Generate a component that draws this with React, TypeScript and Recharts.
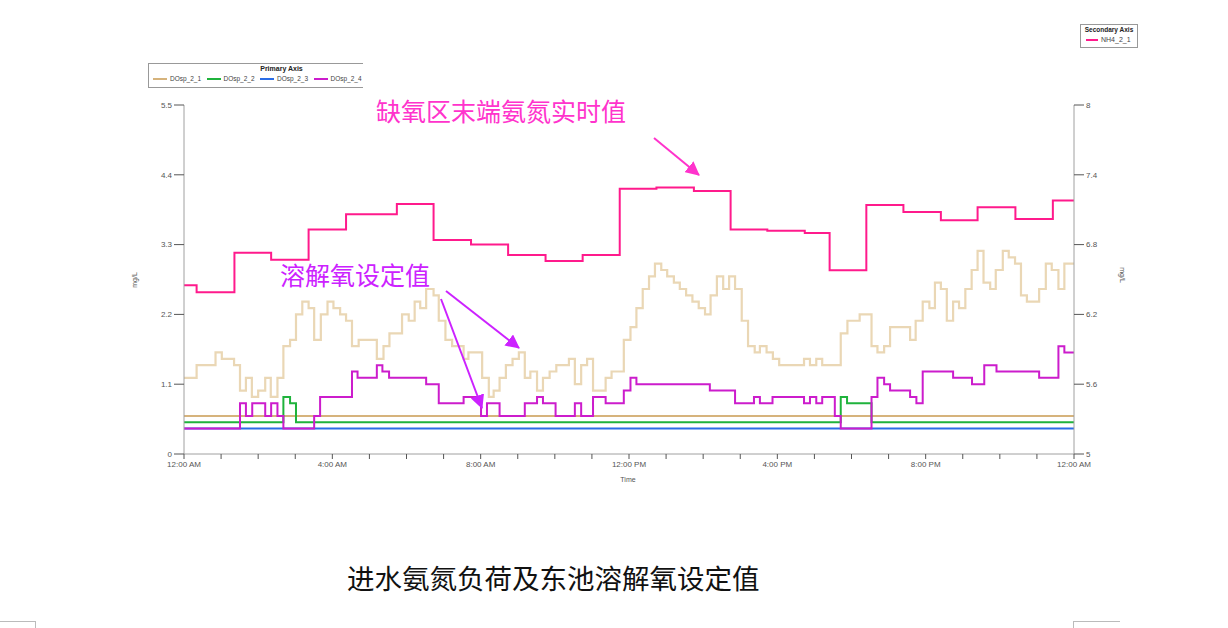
import React from 'react';
import { LineChart, Line, XAxis, YAxis } from 'recharts';

// ---- tick labels ----
const hourTicks = [0,1,2,3,4,5,6,7,8,9,10,11,12,13,14,15,16,17,18,19,20,21,22,23,24];
const timeLabels = ['12:00 AM', '4:00 AM', '8:00 AM', '12:00 PM', '4:00 PM', '8:00 PM', '12:00 AM'];
const leftTicks = [0, 1.1, 2.2, 3.3, 4.4, 5.5];
const rightTicks = [5, 5.6, 6.2, 6.8, 7.4, 8];

// ---- series (hours since midnight, value) ----
const sp1Times = [0, 24];
const sp1Values = [0.6, 0.6];

const sp2Times = [0, 2.68, 2.86, 3.02, 17.71, 17.88, 18.54, 24];
const sp2Values = [0.5, 0.9, 0.8, 0.5, 0.9, 0.8, 0.5, 0.5];

const sp3Times = [0, 24];
const sp3Values = [0.4, 0.4];

const sp4Times = [0, 1.51, 1.67, 1.84, 2.19, 2.35, 2.52, 2.68, 3.51, 3.67, 4.53, 4.68, 5.2, 5.35, 5.53, 6.53, 6.87, 7.54, 8.01, 8.17, 8.51, 9.19, 9.52, 9.68, 10.02, 10.54, 10.71, 11.03, 11.37, 11.86, 12.04, 12.2, 14.18, 14.86, 15.37, 15.53, 15.87, 16.72, 16.88, 17.05, 17.21, 17.55, 17.71, 18.54, 18.7, 18.88, 19.04, 19.58, 19.75, 19.92, 20.74, 21.25, 21.58, 21.91, 23.06, 23.58, 23.74, 24];
const sp4Values = [0.4, 0.8, 0.6, 0.8, 0.6, 0.8, 0.6, 0.4, 0.6, 0.9, 1.3, 1.2, 1.4, 1.3, 1.2, 1.1, 0.8, 0.9, 0.6, 0.8, 0.6, 0.8, 0.9, 0.8, 0.6, 0.8, 0.6, 0.9, 0.8, 1.0, 1.2, 1.1, 1.0, 0.8, 0.9, 0.8, 0.9, 0.8, 0.9, 0.8, 0.9, 0.6, 0.4, 0.9, 1.2, 1.1, 1.0, 0.9, 0.8, 1.3, 1.2, 1.1, 1.4, 1.3, 1.2, 1.7, 1.6, 1.6];

const loadTimes = [0, 0.34, 0.85, 1.02, 1.35, 1.51, 1.67, 1.83, 2.0, 2.19, 2.34, 2.52, 2.68, 2.86, 3.02, 3.19, 3.36, 3.51, 3.69, 3.87, 4.03, 4.21, 4.37, 4.53, 4.71, 5.2, 5.38, 5.54, 5.88, 6.06, 6.22, 6.37, 6.53, 6.73, 6.87, 7.05, 7.23, 7.54, 7.67, 8.04, 8.22, 8.35, 8.51, 8.68, 8.86, 9.03, 9.19, 9.34, 9.52, 9.68, 9.86, 10.04, 10.38, 10.54, 10.71, 10.87, 11.03, 11.37, 11.53, 11.86, 12.04, 12.2, 12.37, 12.54, 12.7, 12.87, 13.03, 13.21, 13.37, 13.54, 13.71, 13.88, 14.05, 14.2, 14.37, 14.54, 14.7, 14.86, 15.04, 15.21, 15.39, 15.53, 15.71, 15.88, 16.05, 16.72, 16.88, 17.05, 17.21, 17.71, 17.89, 18.22, 18.54, 18.7, 18.88, 19.04, 19.58, 19.73, 19.92, 20.1, 20.25, 20.41, 20.57, 20.74, 20.9, 21.07, 21.24, 21.4, 21.56, 21.74, 21.89, 22.08, 22.24, 22.41, 22.57, 22.73, 23.06, 23.24, 23.4, 23.58, 23.74, 24];
const loadValues = [1.2, 1.4, 1.6, 1.5, 1.4, 1.0, 1.2, 0.9, 1.0, 1.2, 0.9, 1.2, 1.7, 1.8, 2.2, 2.4, 2.3, 1.8, 2.2, 2.4, 2.3, 2.2, 2.1, 1.7, 1.8, 1.5, 1.7, 1.9, 2.2, 2.1, 2.4, 2.3, 2.6, 2.5, 2.1, 1.8, 1.7, 1.5, 1.6, 1.2, 0.9, 1.0, 1.2, 1.4, 1.5, 1.6, 1.2, 1.3, 1.0, 1.2, 1.3, 1.4, 1.5, 1.1, 1.4, 1.5, 1.0, 1.2, 1.3, 1.8, 2.0, 2.3, 2.6, 2.8, 3.0, 2.9, 2.8, 2.7, 2.6, 2.5, 2.4, 2.3, 2.2, 2.5, 2.8, 2.6, 2.8, 2.6, 2.1, 1.7, 1.6, 1.7, 1.6, 1.5, 1.4, 1.5, 1.4, 1.5, 1.4, 1.9, 2.1, 2.2, 1.7, 1.6, 1.7, 2.0, 1.8, 2.1, 2.4, 2.3, 2.7, 2.6, 2.1, 2.4, 2.3, 2.6, 2.9, 3.2, 2.7, 2.6, 2.9, 3.2, 3.1, 3.0, 2.5, 2.4, 2.6, 3.0, 2.9, 2.6, 3.0, 3.0];

const nh4Times = [0, 0.34, 1.36, 2.35, 3.36, 4.37, 5.74, 6.73, 7.74, 8.74, 9.75, 10.75, 11.75, 12.74, 13.75, 14.74, 15.73, 16.74, 17.41, 18.4, 19.4, 20.41, 21.4, 22.42, 23.43, 24];
const nh4Values = [6.45, 6.39, 6.73, 6.67, 6.93, 7.06, 7.15, 6.84, 6.8, 6.71, 6.66, 6.71, 7.28, 7.29, 7.26, 6.93, 6.92, 6.9, 6.58, 7.14, 7.08, 7.01, 7.12, 7.02, 7.18, 7.18];

const toRows = (t: number[], v: number[]) => t.map((h, i) => ({ h, v: v[i] }));

const sp1 = toRows(sp1Times, sp1Values);
const sp2 = toRows(sp2Times, sp2Values);
const sp3 = toRows(sp3Times, sp3Values);
const sp4 = toRows(sp4Times, sp4Values);
const load = toRows(loadTimes, loadValues);
const nh4 = toRows(nh4Times, nh4Values);

const C_SP1 = '#d6b37c';
const C_SP2 = '#1fb33c';
const C_SP3 = '#2b6de6';
const C_SP4 = '#cc1ccc';
const C_LOAD = '#ead7b5';
const C_NH4 = '#ff1a8c';

const AX = '#a0a0a0';
const TK = '#555';
const FONT = '"Liberation Sans", Arial, sans-serif';

const primaryLegend = [
  { name: 'DOsp_2_1', color: C_SP1 },
  { name: 'DOsp_2_2', color: C_SP2 },
  { name: 'DOsp_2_3', color: C_SP3 },
  { name: 'DOsp_2_4', color: C_SP4 },
];

export default function App() {
  const tickStyle = { fontSize: 8, fill: TK, fontFamily: FONT };
  return (
    <div style={{ position: 'absolute', left: 0, top: 0, width: 1228, height: 628, background: '#fff', overflow: 'hidden' }}>
      <LineChart width={1228} height={628} margin={{ top: 105, right: 94, bottom: 144, left: 124 }}>
        <XAxis
          type="number"
          dataKey="h"
          domain={[0, 24]}
          ticks={hourTicks}
          interval={0}
          tickFormatter={(v: number) => (v % 4 === 0 ? timeLabels[v / 4] : '')}
          tick={tickStyle}
          tickLine={{ stroke: TK }}
          axisLine={{ stroke: AX }}
          tickSize={5}
          tickMargin={2}
          height={30}
          allowDataOverflow
        />
        <YAxis
          yAxisId="left"
          domain={[0, 5.5]}
          ticks={leftTicks}
          interval={0}
          tick={tickStyle}
          tickLine={{ stroke: TK }}
          axisLine={{ stroke: AX }}
          tickSize={10}
          tickMargin={2}
          width={60}
        />
        <YAxis
          yAxisId="right"
          orientation="right"
          domain={[5, 8]}
          ticks={rightTicks}
          interval={0}
          tick={tickStyle}
          tickLine={{ stroke: TK }}
          axisLine={{ stroke: AX }}
          tickSize={10}
          tickMargin={2}
          width={60}
        />
        <Line yAxisId="left" data={load} dataKey="v" name="load" type="stepAfter" stroke={C_LOAD} strokeWidth={2.2} dot={false} activeDot={false} isAnimationActive={false} />
        <Line yAxisId="left" data={sp1} dataKey="v" name="DOsp_2_1" type="stepAfter" stroke={C_SP1} strokeWidth={2} dot={false} activeDot={false} isAnimationActive={false} />
        <Line yAxisId="left" data={sp3} dataKey="v" name="DOsp_2_3" type="stepAfter" stroke={C_SP3} strokeWidth={2} dot={false} activeDot={false} isAnimationActive={false} />
        <Line yAxisId="left" data={sp2} dataKey="v" name="DOsp_2_2" type="stepAfter" stroke={C_SP2} strokeWidth={2} dot={false} activeDot={false} isAnimationActive={false} />
        <Line yAxisId="left" data={sp4} dataKey="v" name="DOsp_2_4" type="stepAfter" stroke={C_SP4} strokeWidth={2} dot={false} activeDot={false} isAnimationActive={false} />
        <Line yAxisId="right" data={nh4} dataKey="v" name="NH4_2_1" type="stepAfter" stroke={C_NH4} strokeWidth={2} dot={false} activeDot={false} isAnimationActive={false} />
      </LineChart>

      {/* axis titles + annotation arrows */}
      <svg width={1228} height={628} style={{ position: 'absolute', left: 0, top: 0, pointerEvents: 'none' }}>
        <defs>
          <marker id="ahPurple" markerWidth="14" markerHeight="14" refX="13" refY="7" orient="auto" markerUnits="userSpaceOnUse" viewBox="0 0 14 14">
            <path d="M0,0 L14,7 L0,14 z" fill="#cc22ff" />
          </marker>
          <marker id="ahPink2" markerWidth="14" markerHeight="14" refX="13" refY="7" orient="auto" markerUnits="userSpaceOnUse" viewBox="0 0 14 14">
            <path d="M0,0 L14,7 L0,14 z" fill="#ff33cc" />
          </marker>
        </defs>
        <text x={137} y={280} transform="rotate(-90 137 280)" textAnchor="middle" fontSize={7} fill={TK} fontFamily={FONT}>mg/L</text>
        <text x={1120} y={275} transform="rotate(90 1120 275)" textAnchor="middle" fontSize={7} fill={TK} fontFamily={FONT}>mg/L</text>
        <text x={628} y={482} textAnchor="middle" fontSize={7} fill={TK} fontFamily={FONT}>Time</text>
        <line x1={654} y1={138} x2={699} y2={175} stroke="#ff33cc" strokeWidth={2} markerEnd="url(#ahPink2)" />
        <line x1={446} y1={291} x2={519} y2={348} stroke="#cc22ff" strokeWidth={2} markerEnd="url(#ahPurple)" />
        <line x1={441} y1={299} x2={482} y2={408} stroke="#cc22ff" strokeWidth={2} markerEnd="url(#ahPurple)" />
        {/* page corner marks */}
        <line x1={0} y1={621.5} x2={35} y2={621.5} stroke="#bbb" strokeWidth={1} />
        <line x1={35.5} y1={621} x2={35.5} y2={628} stroke="#bbb" strokeWidth={1} />
        <line x1={1073} y1={621.5} x2={1120} y2={621.5} stroke="#bbb" strokeWidth={1} />
        <line x1={1073.5} y1={621} x2={1073.5} y2={628} stroke="#bbb" strokeWidth={1} />
      </svg>

      {/* Primary axis legend */}
      <div style={{ position: 'absolute', left: 148, top: 63, width: 214, height: 23, borderLeft: '1px solid #999', borderTop: '1px solid #999', borderBottom: '1px solid #999', overflow: 'hidden', fontFamily: FONT, background: '#fff' }}>
        <div style={{ position: 'absolute', left: 0, top: 1, width: 265, textAlign: 'center', fontSize: 7, fontWeight: 'bold', color: '#222' }}>Primary Axis</div>
        {primaryLegend.map((it, i) => (
          <div key={it.name} style={{ position: 'absolute', left: 4 + i * 53.5, top: 11, whiteSpace: 'nowrap', fontSize: 6.5, color: '#444', display: 'flex', alignItems: 'center' }}>
            <span style={{ display: 'inline-block', width: 14, height: 2, background: it.color, marginRight: 3 }} />
            {it.name}
          </div>
        ))}
      </div>

      {/* Secondary axis legend */}
      <div style={{ position: 'absolute', left: 1080, top: 24, width: 56, height: 22, border: '1px solid #999', fontFamily: FONT, background: '#fff' }}>
        <div style={{ position: 'absolute', left: 0, top: 1, width: 56, textAlign: 'center', fontSize: 6.5, fontWeight: 'bold', color: '#222', whiteSpace: 'nowrap' }}>Secondary Axis</div>
        <div style={{ position: 'absolute', left: 5, top: 11, whiteSpace: 'nowrap', fontSize: 7, color: '#444', display: 'flex', alignItems: 'center' }}>
          <span style={{ display: 'inline-block', width: 12, height: 2, background: C_NH4, marginRight: 3 }} />
          NH4_2_1
        </div>
      </div>

      {/* annotations */}
      <div style={{ position: 'absolute', left: 376, top: 95, fontSize: 25, lineHeight: '30px', color: '#ff33cc', fontFamily: '"Noto Sans CJK SC", sans-serif', whiteSpace: 'nowrap' }}>缺氧区末端氨氮实时值</div>
      <div style={{ position: 'absolute', left: 280, top: 259, fontSize: 25, lineHeight: '30px', color: '#cc22ff', fontFamily: '"Noto Sans CJK SC", sans-serif', whiteSpace: 'nowrap' }}>溶解氧设定值</div>
      <div style={{ position: 'absolute', left: 347, top: 560, fontSize: 27.5, lineHeight: '34px', color: '#111', fontFamily: '"Noto Sans CJK SC", sans-serif', whiteSpace: 'nowrap' }}>进水氨氮负荷及东池溶解氧设定值</div>
    </div>
  );
}
